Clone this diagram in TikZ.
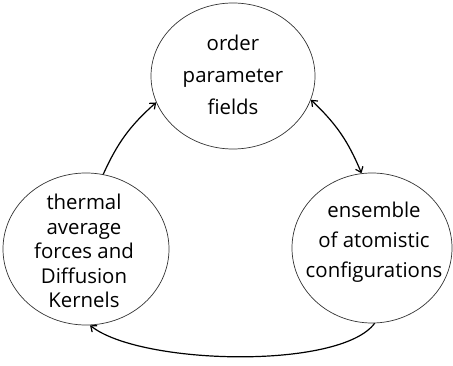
\documentclass[tikz,border=0pt]{standalone}
\usepackage{fontspec}
\setmainfont{Open Sans}
\usetikzlibrary{shapes.geometric,arrows.meta}
\begin{document}
\begin{tikzpicture}[x=1pt,y=-1pt,
  blob/.style={ellipse,draw=black!80,line width=0.7pt,inner sep=0pt},
  txt/.style={align=center,inner sep=0pt,font=\fontsize{20.4}{24}\selectfont},
  arr/.style={line width=1.2pt,>={Straight Barb[length=5pt,width=8pt]}}]
\useasboundingbox (0,0) rectangle (453,366);
\node[blob,minimum width=164pt,minimum height=146pt] (top) at (233,76) {};
\node[blob,minimum width=166pt,minimum height=152pt] (left) at (86,249) {};
\node[blob,minimum width=160pt,minimum height=150pt] (right) at (372,248) {};
\node[txt,font=\fontsize{20.4}{32}\selectfont] (toptxt) at (233,75) {order\\parameter\\fields};
\node[txt,font=\fontsize{20.4}{24.5}\selectfont] (lefttxt) at (84,251) {thermal\\average\\forces and\\Diffusion\\Kernels};
\node[txt,font=\fontsize{20.4}{30}\selectfont] (righttxt) at (374,242) {ensemble\\of atomistic\\configurations};
\draw[arr,->] (left.77) to[bend left=12] (top.199);
\draw[arr,<->] (top.-17) to[bend left=12] (right.98);
\draw[arr,->] (right.-88) .. controls (340,370) and (140,365) .. (left.-87);
\end{tikzpicture}
\end{document}
